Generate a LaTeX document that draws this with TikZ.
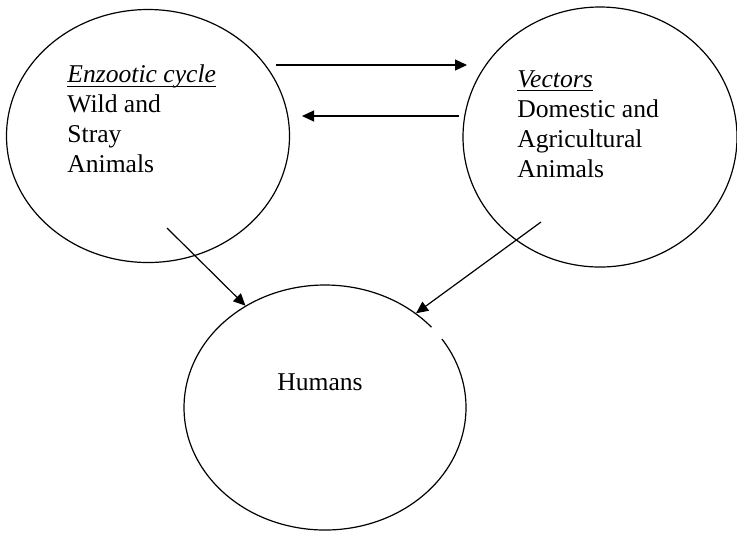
\documentclass[tikz,border=0pt]{standalone}
\usepackage{fontspec}
\setmainfont{Liberation Serif}
\usetikzlibrary{shapes.geometric, arrows.meta}
\newsavebox{\markbox}
\newcommand{\hostmark}[1]{\sbox{\markbox}{#1}\rlap{\rule[-2pt]{\wd\markbox}{0.5pt}}\usebox{\markbox}}
\tikzset{
  >={Triangle[length=6pt,width=5.5pt]},
  every node/.style={font=\fontsize{12.8pt}{15pt}\selectfont},
  host/.style={ellipse, draw, line width=0.6pt, inner sep=0pt},
  hosttext/.style={align=left, anchor=north west, inner sep=0pt},
  flow/.style={->, line width=0.6pt},
}

\begin{document}
\begin{tikzpicture}[x=0.5pt, y=-0.5pt]
  \clip (0,0) rectangle (737,532);

  \node[host, minimum width=141.5pt, minimum height=126.5pt] (enz) at (148,136) {};
  \node[host, minimum width=137pt, minimum height=130pt] (vec) at (600,137) {};
  \node[host, draw=none, minimum width=141pt, minimum height=122.5pt] (hum) at (325,407.5) {};
  % humans ellipse has a small break on its upper right
  \draw[line width=0.6pt] ([shift={(41:70.5pt and 61.25pt)}]hum.center)
    arc[start angle=41, end angle=394, x radius=70.5pt, y radius=61.25pt];

  \node[hosttext] (enztxt) at (67,64.5) {\hostmark{\textit{Enzootic cycle}}\\Wild and\\Stray\\Animals};
  \node[hosttext] (vectxt) at (517,70) {\hostmark{\textit{Vectors}}\\Domestic and\\Agricultural\\Animals};
  \node[anchor=base, inner sep=0pt] (humtxt) at (320,390) {Humans};

  \coordinate (enzout) at (276,65);
  \coordinate (vecin) at (467,65);
  \coordinate (vecout) at (459,116);
  \coordinate (enzin) at (302,116);
  \coordinate (enzdown) at (167,228);
  \coordinate (vecdown) at (541,222);

  \draw[flow] (enzout) -- (vecin);
  \draw[flow] (vecout) -- (enzin);
  \draw[flow] (enzdown) -- (hum.128);
  \draw[flow] (vecdown) -- (hum.46);
\end{tikzpicture}
\end{document}
